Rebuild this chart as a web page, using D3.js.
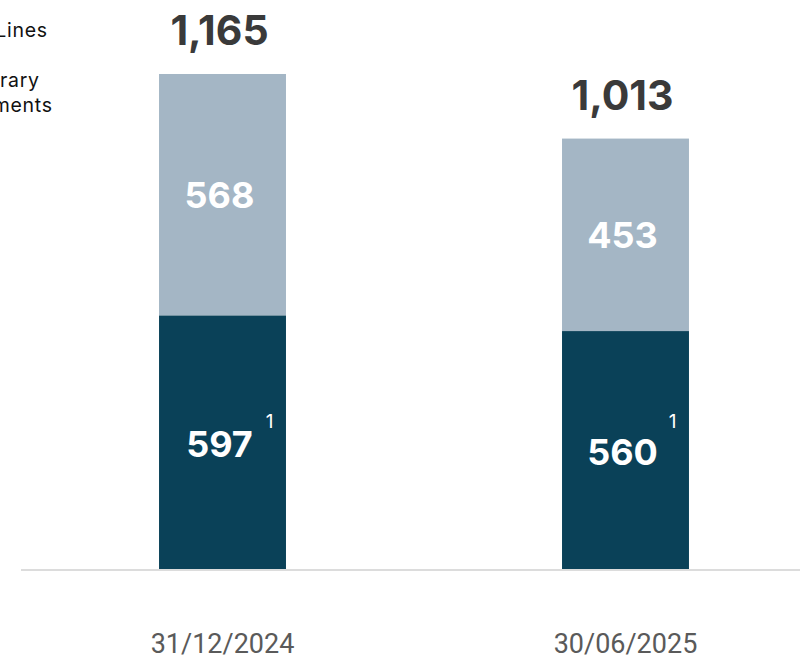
<!DOCTYPE html>
<html>
<head>
<meta charset="utf-8">
<script src="https://cdn.jsdelivr.net/npm/d3@7"></script>
<style>
  html, body { margin: 0; padding: 0; background: #ffffff; }
  svg { display: block; }
</style>
</head>
<body>
<svg id="chart" width="800" height="657"></svg>
<script>
// Period-end dates shown on the x axis
const categories = ["31/12/2024", "30/06/2025"];
// Stacked components (bottom to top)
const seriesNames = ["Credit Lines", "Temporary Investments"];
const creditLines = [597, 560];
const temporaryInvestments = [568, 453];
const totals = [1165, 1013];
// Footnote marker attached to the bottom segment labels
const footnoteMarks = ["1", "1"];

const colors = ["#0a4158", "#a4b6c5"];

const svg = d3.select("#chart");
const W = 800, H = 657;

const baseY = 569;
const y = d3.scaleLinear().domain([0, 1200]).range([baseY, baseY - 1200 * 0.4249]);

const x = d3.scaleBand()
  .domain(categories)
  .range([20, 828])
  .paddingInner(0.685)
  .paddingOuter(0.345);

const rows = categories.map((c, i) => ({
  cat: c,
  "Credit Lines": creditLines[i],
  "Temporary Investments": temporaryInvestments[i],
  total: totals[i],
  mark: footnoteMarks[i]
}));

const stack = d3.stack().keys(seriesNames);
const layers = stack(rows);

// Baseline
svg.append("line")
  .attr("x1", 21).attr("x2", W)
  .attr("y1", baseY + 1).attr("y2", baseY + 1)
  .attr("stroke", "#dcdcdc")
  .attr("stroke-width", 2);

// Bars
const g = svg.append("g");
layers.forEach((layer, li) => {
  g.selectAll(null)
    .data(layer)
    .enter()
    .append("rect")
    .attr("x", d => x(d.data.cat))
    .attr("width", x.bandwidth())
    .attr("y", d => y(d[1]))
    .attr("height", d => y(d[0]) - y(d[1]))
    .attr("fill", colors[li]);
});

const numFont = "Inter, 'Noto Sans', sans-serif";

// Segment value labels
layers.forEach((layer, li) => {
  g.selectAll(null)
    .data(layer)
    .enter()
    .append("text")
    .attr("x", d => x(d.data.cat) + x.bandwidth() / 2 - 3)
    .attr("y", d => (y(d[0]) + y(d[1])) / 2)
    .attr("dy", li === 0 ? "0.42em" : "0.36em")
    .attr("text-anchor", "middle")
    .attr("font-family", numFont)
    .attr("font-weight", 700)
    .attr("font-size", 36)
    .attr("fill", "#ffffff")
    .text(d => d3.format(",")(d[1] - d[0]));
});

// Footnote markers on the bottom segment
g.selectAll(null)
  .data(layers[0])
  .enter()
  .append("text")
  .attr("x", d => x(d.data.cat) + x.bandwidth() / 2 + 47)
  .attr("y", d => y(0) - 141)
  .attr("text-anchor", "middle")
  .attr("font-family", numFont)
  .attr("font-weight", 400)
  .attr("font-size", 19)
  .attr("fill", "#ffffff")
  .text(d => d.data.mark);

// Totals above bars
g.selectAll(null)
  .data(rows)
  .enter()
  .append("text")
  .attr("x", d => x(d.cat) + x.bandwidth() / 2 - 3)
  .attr("y", d => y(d.total) - 29)
  .attr("text-anchor", "middle")
  .attr("font-family", numFont)
  .attr("font-weight", 700)
  .attr("font-size", 41)
  .attr("fill", "#3a3a3a")
  .text(d => d3.format(",")(d.total));

// Category labels
g.selectAll(null)
  .data(categories)
  .enter()
  .append("text")
  .attr("x", d => x(d) + x.bandwidth() / 2)
  .attr("y", 653)
  .attr("text-anchor", "middle")
  .attr("font-family", "Roboto, sans-serif")
  .attr("font-weight", 400)
  .attr("font-size", 27)
  .attr("fill", "#5a5a5a")
  .text(d => d);

// Legend (top-left, partly beyond the left edge)
const legend = svg.append("g");
const legendItems = [
  { lines: ["Credit Lines"], ends: [47], color: colors[0], y: 37 },
  { lines: ["Temporary", "Investments"], ends: [39, 52], color: colors[1], y: 87 }
];
legendItems.forEach(item => {
  const t = legend.append("text")
    .attr("font-family", "Inter, sans-serif")
    .attr("font-size", 19.5)
    .attr("letter-spacing", 0.7)
    .attr("fill", "#111111")
    .attr("text-anchor", "end");
  item.lines.forEach((ln, k) => {
    t.append("tspan")
      .attr("x", item.ends[k] + 0.7)
      .attr("y", item.y + k * 25)
      .text(ln);
  });
  legend.append("rect")
    .attr("x", -170).attr("y", item.y - 16)
    .attr("width", 18).attr("height", 18)
    .attr("fill", item.color);
});
</script>
</body>
</html>
